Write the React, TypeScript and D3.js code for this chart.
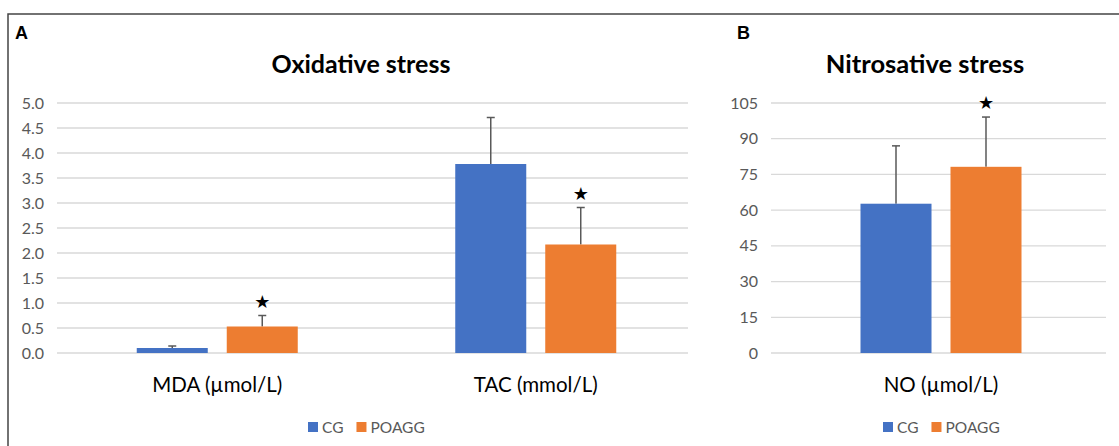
import { useRef, useEffect } from "react";
import * as d3 from "d3";

// values
const groups = ["CG", "POAGG"];
const colors = ["#4472C4", "#ED7D31"];

const oxCategories = ["MDA (µmol/L)", "TAC (mmol/L)"];
const oxCG = [0.1, 3.78];
const oxCGErr = [0.04, 0.93];
const oxPOAGG = [0.53, 2.17];
const oxPOAGGErr = [0.22, 0.74];
const oxTicks = [0, 0.5, 1, 1.5, 2, 2.5, 3, 3.5, 4, 4.5, 5];

const niCategories = ["NO (µmol/L)"];
const niCG = [62.7];
const niCGErr = [24.3];
const niPOAGG = [78.2];
const niPOAGGErr = [20.9];
const niTicks = [0, 15, 30, 45, 60, 75, 90, 105];

const FONT = "Lato, 'Open Sans', sans-serif";

const App = () => {
    const svgRef = useRef(null);

    useEffect(() => {
        const svg = d3.select(svgRef.current);
        svg.selectAll("*").remove();

        // frame
        svg.append("path")
            .attr("d", "M8,446 L8,14 L1119,14")
            .attr("fill", "none")
            .attr("stroke", "#444")
            .attr("stroke-width", 1.5);

        const drawPanel = (opts) => {
            const { letter, letterX, title, titleX, titleSize, cats, cg, cgErr, po, poErr, ticks, fmt, gridX, bandX, legendX } = opts;
            const g = svg.append("g");

            g.append("text").attr("x", letterX).attr("y", 39)
                .attr("font-family", "Arial, 'Liberation Sans', sans-serif")
                .attr("font-weight", "bold").attr("font-size", 18).attr("fill", "#000")
                .text(letter);

            g.append("text").attr("x", titleX).attr("y", 73).attr("text-anchor", "middle")
                .attr("font-family", FONT).attr("font-weight", "bold").attr("font-size", titleSize)
                .attr("fill", "#000").text(title);

            const yScale = d3.scaleLinear().domain([0, ticks[ticks.length - 1]]).range([353, 103]);

            ticks.forEach(t => {
                g.append("line")
                    .attr("x1", gridX[0]).attr("x2", gridX[1])
                    .attr("y1", yScale(t)).attr("y2", yScale(t))
                    .attr("stroke", "#d9d9d9").attr("stroke-width", 1.3);
                g.append("text")
                    .attr("x", gridX[0] - 13).attr("y", yScale(t) + 5.5)
                    .attr("text-anchor", "end")
                    .attr("font-family", FONT).attr("font-size", 16).attr("fill", "#595959")
                    .text(fmt(t));
            });

            const xScale = d3.scaleBand().domain(cats).range(bandX);
            const inner = d3.scaleBand().domain(groups).range([-80.5, 80.5]).paddingInner(0.211);

            cats.forEach((c, i) => {
                const cx = xScale(c) + xScale.bandwidth() / 2;
                const vals = [[cg[i], cgErr[i]], [po[i], poErr[i]]];
                vals.forEach(([v, e], j) => {
                    const x0 = cx + inner(groups[j]);
                    const bw = inner.bandwidth();
                    const mid = x0 + bw / 2;
                    const top = yScale(v + e);
                    g.append("line")
                        .attr("x1", mid).attr("x2", mid)
                        .attr("y1", yScale(v)).attr("y2", top)
                        .attr("stroke", "#595959").attr("stroke-width", 1.5);
                    g.append("line")
                        .attr("x1", mid - 4).attr("x2", mid + 4)
                        .attr("y1", top).attr("y2", top)
                        .attr("stroke", "#595959").attr("stroke-width", 1.5);
                    g.append("rect")
                        .attr("x", x0).attr("y", yScale(v))
                        .attr("width", bw).attr("height", yScale(0) - yScale(v))
                        .attr("fill", colors[j]);
                    if (j === 1) {
                        g.append("text")
                            .attr("x", mid).attr("y", top - 8)
                            .attr("text-anchor", "middle")
                            .attr("font-family", "'DejaVu Sans', sans-serif")
                            .attr("font-size", 18).attr("fill", "#000")
                            .text("★");
                    }
                });
                g.append("text")
                    .attr("x", cx).attr("y", 392).attr("text-anchor", "middle")
                    .attr("font-family", FONT).attr("font-size", 20.5).attr("fill", "#000")
                    .text(c);
            });

            // legend
            let lx = legendX;
            groups.forEach((name, j) => {
                g.append("rect").attr("x", lx).attr("y", 422).attr("width", 10).attr("height", 10)
                    .attr("fill", colors[j]);
                const t = g.append("text").attr("x", lx + 14).attr("y", 432.5)
                    .attr("font-family", FONT).attr("font-size", 15.5).attr("fill", "#595959")
                    .text(name);
                lx += 14 + t.node().getComputedTextLength() + 13;
            });
        };

        drawPanel({
            letter: "A", letterX: 15, title: "Oxidative stress", titleX: 361, titleSize: 25,
            cats: oxCategories, cg: oxCG, cgErr: oxCGErr, po: oxPOAGG, poErr: oxPOAGGErr,
            ticks: oxTicks, fmt: d3.format(".1f"),
            gridX: [57, 688], bandX: [58, 695], legendX: 308
        });

        drawPanel({
            letter: "B", letterX: 737, title: "Nitrosative stress", titleX: 925, titleSize: 25.5,
            cats: niCategories, cg: niCG, cgErr: niCGErr, po: niPOAGG, poErr: niPOAGGErr,
            ticks: niTicks, fmt: d3.format("d"),
            gridX: [771, 1106], bandX: [771, 1111], legendX: 883
        });
    }, []);

    return (
        <svg ref={svgRef} width={1119} height={446}
            style={{ position: "absolute", left: 0, top: 0, background: "#fff" }}></svg>
    );
};

export default App;
